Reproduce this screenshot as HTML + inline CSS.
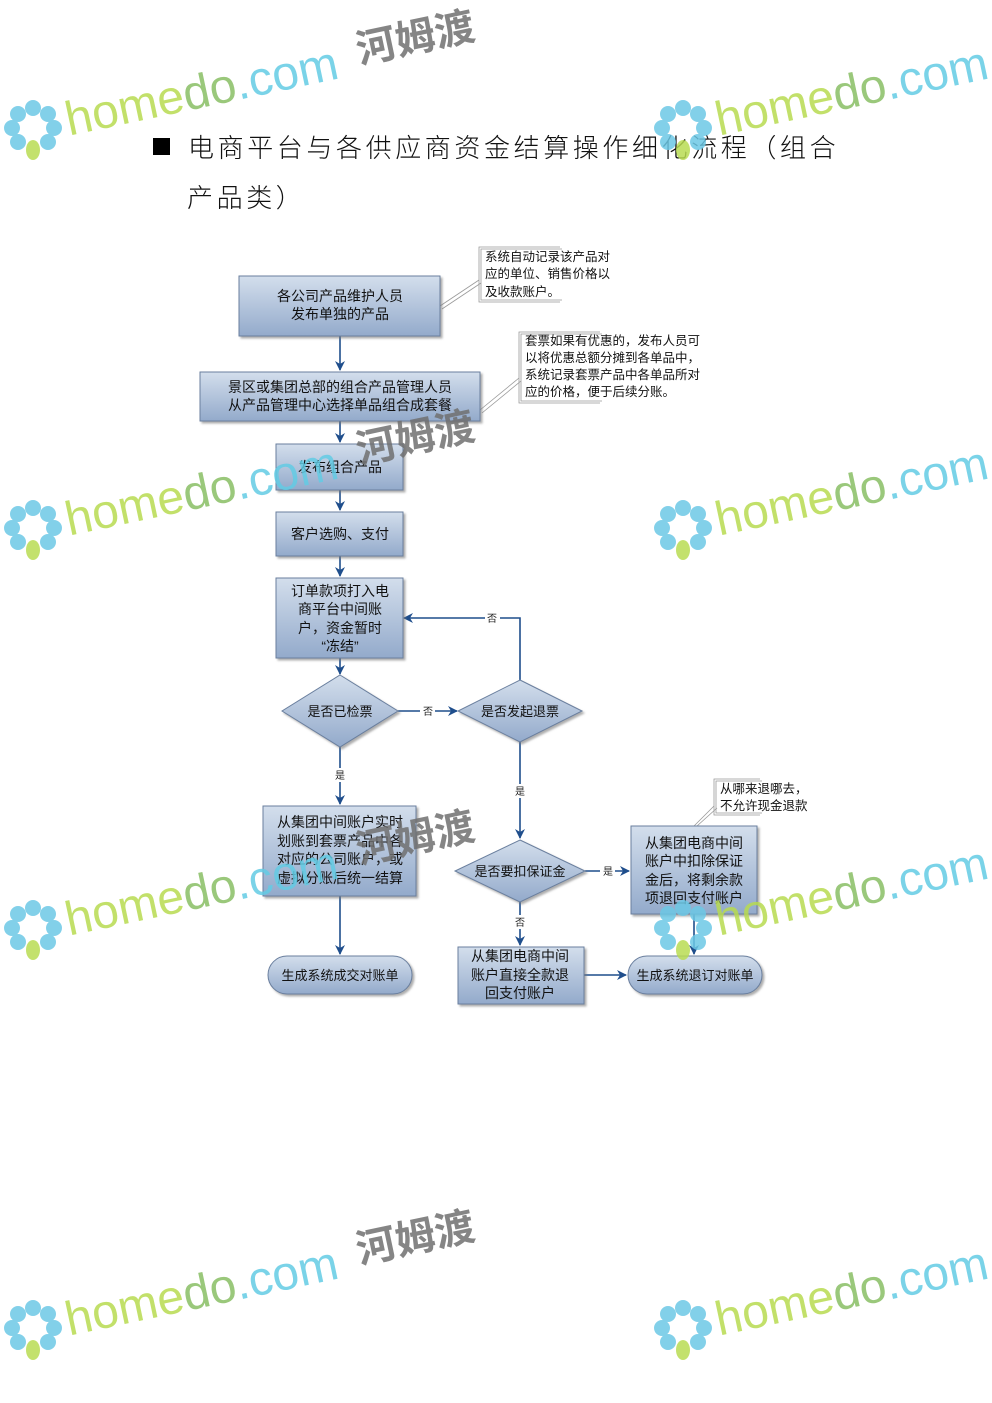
<!DOCTYPE html>
<html><head><meta charset="utf-8"><style>
html,body{margin:0;padding:0;background:#fff}
svg{display:block}
text{font-family:"Liberation Sans","Noto Sans CJK SC",sans-serif}
</style></head><body>
<svg width="992" height="1403" viewBox="0 0 992 1403" xmlns="http://www.w3.org/2000/svg">
<defs>
<linearGradient id="g" x1="0" y1="0" x2="0" y2="1">
<stop offset="0" stop-color="#d3deec"/><stop offset="1" stop-color="#93aacb"/></linearGradient>
<marker id="a" markerWidth="10" markerHeight="10" refX="9" refY="5" orient="auto" markerUnits="userSpaceOnUse">
<path d="M0,0 L10,5 L0,10 L3,5 z" fill="#1f4e8c"/></marker>
<filter id="s" x="-10%" y="-10%" width="130%" height="140%"><feDropShadow dx="2" dy="2" stdDeviation="1" flood-color="#777" flood-opacity="0.6"/></filter>
</defs>

<!-- Title -->
<rect x="153" y="138" width="17" height="17" fill="#000"/>
<text x="188" y="157" font-size="26" letter-spacing="3.6" fill="#111" font-family="'Noto Sans CJK SC',sans-serif" font-weight="300">电商平台与各供应商资金结算操作细化流程（组合</text>
<text x="187" y="207" font-size="26" letter-spacing="3.6" fill="#111" font-family="'Noto Sans CJK SC',sans-serif" font-weight="300">产品类）</text>

<!-- connectors -->
<g stroke="#1f4e8c" stroke-width="1.6" fill="none">
<line x1="340" y1="336" x2="340" y2="370" marker-end="url(#a)"/>
<line x1="340" y1="421" x2="340" y2="442" marker-end="url(#a)"/>
<line x1="340" y1="490" x2="340" y2="510" marker-end="url(#a)"/>
<line x1="340" y1="556" x2="340" y2="576" marker-end="url(#a)"/>
<line x1="340" y1="658" x2="340" y2="674" marker-end="url(#a)"/>
<line x1="398" y1="711" x2="457" y2="711" marker-end="url(#a)"/>
<polyline points="520,680 520,618 404,618" marker-end="url(#a)"/>
<line x1="340" y1="747" x2="340" y2="804" marker-end="url(#a)"/>
<line x1="520" y1="742" x2="520" y2="838" marker-end="url(#a)"/>
<line x1="585" y1="871" x2="629" y2="871" marker-end="url(#a)"/>
<line x1="520" y1="902" x2="520" y2="945" marker-end="url(#a)"/>
<line x1="340" y1="896" x2="340" y2="954" marker-end="url(#a)"/>
<line x1="694" y1="914" x2="694" y2="954" marker-end="url(#a)"/>
<line x1="584" y1="975" x2="626" y2="975" marker-end="url(#a)"/>
</g>
<g stroke="#999" stroke-width="0.8" fill="none">
<line x1="440" y1="306" x2="479" y2="280"/><line x1="442" y1="309" x2="481" y2="283"/>
<line x1="480" y1="410" x2="519" y2="378"/><line x1="482" y1="413" x2="521" y2="381"/>
<line x1="694" y1="826" x2="714" y2="806"/><line x1="697" y1="826" x2="717" y2="808"/>
</g>
<g fill="#fff"><rect x="485" y="612" width="15" height="13"/><rect x="420" y="705" width="15" height="13"/><rect x="332" y="768" width="15" height="14"/><rect x="512" y="784" width="15" height="14"/><rect x="600" y="864" width="15" height="14"/><rect x="512" y="915" width="15" height="14"/></g>
<g font-size="10" fill="#222" text-anchor="middle">
<text x="492" y="622">否</text><text x="428" y="715">否</text><text x="340" y="779">是</text><text x="520" y="795">是</text><text x="608" y="875">是</text><text x="520" y="926">否</text>
</g>

<g fill="url(#g)" stroke="#6a7f9e" stroke-width="1" filter="url(#s)">
<rect x="239" y="276" width="201" height="60"/>
<rect x="200" y="372" width="280" height="49"/>
<rect x="276" y="444" width="127" height="46"/>
<rect x="276" y="512" width="127" height="44"/>
<rect x="276" y="578" width="127" height="80"/>
<polygon points="340,675 398,711 340,747 282,711"/>
<polygon points="520,680 582,711 520,742 458,711"/>
<rect x="263" y="806" width="153" height="90"/>
<polygon points="520,840 585,871 520,902 455,871"/>
<rect x="631" y="826" width="126" height="88"/>
<rect x="458" y="947" width="126" height="57"/>
<rect x="268" y="956" width="144" height="38" rx="19"/>
<rect x="628" y="956" width="134" height="38" rx="19"/>
</g>
<g font-size="14" fill="#111" text-anchor="middle">
<text x="340" y="301">各公司产品维护人员</text><text x="340" y="319">发布单独的产品</text>
<text x="340" y="392">景区或集团总部的组合产品管理人员</text><text x="340" y="410">从产品管理中心选择单品组合成套餐</text>
<text x="340" y="472">发布组合产品</text>
<text x="340" y="539">客户选购、支付</text>
<text x="340" y="596">订单款项打入电</text><text x="340" y="614">商平台中间账</text><text x="340" y="633">户，资金暂时</text><text x="340" y="651">“冻结”</text>
<text x="340" y="716" font-size="13">是否已检票</text>
<text x="520" y="716" font-size="13">是否发起退票</text>
<text x="340" y="827">从集团中间账户实时</text><text x="340" y="846">划账到套票产品中各</text><text x="340" y="864">对应的公司账户，或</text><text x="340" y="883">虚拟分账后统一结算</text>
<text x="520" y="876" font-size="13">是否要扣保证金</text>
<text x="694" y="848">从集团电商中间</text><text x="694" y="866">账户中扣除保证</text><text x="694" y="885">金后，将剩余款</text><text x="694" y="903">项退回支付账户</text>
<text x="520" y="961">从集团电商中间</text><text x="520" y="980">账户直接全款退</text><text x="520" y="998">回支付账户</text>
<text x="340" y="980" font-size="13">生成系统成交对账单</text>
<text x="695" y="980" font-size="13">生成系统退订对账单</text>
</g>
<g fill="none" stroke="#999" stroke-width="0.8">
<polyline points="560,247 479,247 479,302 560,302"/><polyline points="562,249 481,249 481,300 562,300"/>
<polyline points="600,332 519,332 519,403 600,403"/><polyline points="602,334 521,334 521,401 602,401"/>
<polyline points="760,779 714,779 714,815 760,815"/><polyline points="762,781 716,781 716,813 762,813"/>
</g>
<g font-size="12.5" fill="#111">
<text x="485" y="261">系统自动记录该产品对</text><text x="485" y="278">应的单位、销售价格以</text><text x="485" y="296">及收款账户。</text>
<text x="525" y="345">套票如果有优惠的，发布人员可</text><text x="525" y="362">以将优惠总额分摊到各单品中，</text><text x="525" y="379">系统记录套票产品中各单品所对</text><text x="525" y="396">应的价格，便于后续分账。</text>
<text x="720" y="793">从哪来退哪去，</text><text x="720" y="810">不允许现金退款</text>
</g>

<!-- watermarks -->
<g opacity="0.85">
<g transform="translate(0,128)">
<g fill="#6cc8e6"><circle cx="33" cy="-20" r="8"/><circle cx="48" cy="-14" r="8"/><circle cx="54" cy="0" r="8"/><circle cx="48" cy="14" r="8"/><circle cx="18" cy="14" r="8"/><circle cx="12" cy="0" r="8"/><circle cx="18" cy="-14" r="8"/></g>
<ellipse cx="33" cy="22" rx="7" ry="10" fill="#b9dc52"/>
<g transform="rotate(-12)"><text x="66" y="22" font-size="48" fill="#b8db50">home<tspan fill="#88be64">do</tspan><tspan fill="#62cbe4">.com</tspan></text>
<text x="365" y="12" font-size="40" font-weight="bold" fill="#707070" font-family="'Noto Sans CJK SC',sans-serif">河姆渡</text></g>
</g>
<g transform="translate(650,128)">
<g fill="#6cc8e6"><circle cx="33" cy="-20" r="8"/><circle cx="48" cy="-14" r="8"/><circle cx="54" cy="0" r="8"/><circle cx="48" cy="14" r="8"/><circle cx="18" cy="14" r="8"/><circle cx="12" cy="0" r="8"/><circle cx="18" cy="-14" r="8"/></g>
<ellipse cx="33" cy="22" rx="7" ry="10" fill="#b9dc52"/>
<g transform="rotate(-12)"><text x="66" y="22" font-size="48" fill="#b8db50">home<tspan fill="#88be64">do</tspan><tspan fill="#62cbe4">.com</tspan></text></g>
</g>
<g transform="translate(0,528)">
<g fill="#6cc8e6"><circle cx="33" cy="-20" r="8"/><circle cx="48" cy="-14" r="8"/><circle cx="54" cy="0" r="8"/><circle cx="48" cy="14" r="8"/><circle cx="18" cy="14" r="8"/><circle cx="12" cy="0" r="8"/><circle cx="18" cy="-14" r="8"/></g>
<ellipse cx="33" cy="22" rx="7" ry="10" fill="#b9dc52"/>
<g transform="rotate(-12)"><text x="66" y="22" font-size="48" fill="#b8db50">home<tspan fill="#88be64">do</tspan><tspan fill="#62cbe4">.com</tspan></text>
<text x="365" y="12" font-size="40" font-weight="bold" fill="#707070" font-family="'Noto Sans CJK SC',sans-serif">河姆渡</text></g>
</g>
<g transform="translate(650,528)">
<g fill="#6cc8e6"><circle cx="33" cy="-20" r="8"/><circle cx="48" cy="-14" r="8"/><circle cx="54" cy="0" r="8"/><circle cx="48" cy="14" r="8"/><circle cx="18" cy="14" r="8"/><circle cx="12" cy="0" r="8"/><circle cx="18" cy="-14" r="8"/></g>
<ellipse cx="33" cy="22" rx="7" ry="10" fill="#b9dc52"/>
<g transform="rotate(-12)"><text x="66" y="22" font-size="48" fill="#b8db50">home<tspan fill="#88be64">do</tspan><tspan fill="#62cbe4">.com</tspan></text></g>
</g>
<g transform="translate(0,928)">
<g fill="#6cc8e6"><circle cx="33" cy="-20" r="8"/><circle cx="48" cy="-14" r="8"/><circle cx="54" cy="0" r="8"/><circle cx="48" cy="14" r="8"/><circle cx="18" cy="14" r="8"/><circle cx="12" cy="0" r="8"/><circle cx="18" cy="-14" r="8"/></g>
<ellipse cx="33" cy="22" rx="7" ry="10" fill="#b9dc52"/>
<g transform="rotate(-12)"><text x="66" y="22" font-size="48" fill="#b8db50">home<tspan fill="#88be64">do</tspan><tspan fill="#62cbe4">.com</tspan></text>
<text x="365" y="12" font-size="40" font-weight="bold" fill="#707070" font-family="'Noto Sans CJK SC',sans-serif">河姆渡</text></g>
</g>
<g transform="translate(650,928)">
<g fill="#6cc8e6"><circle cx="33" cy="-20" r="8"/><circle cx="48" cy="-14" r="8"/><circle cx="54" cy="0" r="8"/><circle cx="48" cy="14" r="8"/><circle cx="18" cy="14" r="8"/><circle cx="12" cy="0" r="8"/><circle cx="18" cy="-14" r="8"/></g>
<ellipse cx="33" cy="22" rx="7" ry="10" fill="#b9dc52"/>
<g transform="rotate(-12)"><text x="66" y="22" font-size="48" fill="#b8db50">home<tspan fill="#88be64">do</tspan><tspan fill="#62cbe4">.com</tspan></text></g>
</g>
<g transform="translate(0,1328)">
<g fill="#6cc8e6"><circle cx="33" cy="-20" r="8"/><circle cx="48" cy="-14" r="8"/><circle cx="54" cy="0" r="8"/><circle cx="48" cy="14" r="8"/><circle cx="18" cy="14" r="8"/><circle cx="12" cy="0" r="8"/><circle cx="18" cy="-14" r="8"/></g>
<ellipse cx="33" cy="22" rx="7" ry="10" fill="#b9dc52"/>
<g transform="rotate(-12)"><text x="66" y="22" font-size="48" fill="#b8db50">home<tspan fill="#88be64">do</tspan><tspan fill="#62cbe4">.com</tspan></text>
<text x="365" y="12" font-size="40" font-weight="bold" fill="#707070" font-family="'Noto Sans CJK SC',sans-serif">河姆渡</text></g>
</g>
<g transform="translate(650,1328)">
<g fill="#6cc8e6"><circle cx="33" cy="-20" r="8"/><circle cx="48" cy="-14" r="8"/><circle cx="54" cy="0" r="8"/><circle cx="48" cy="14" r="8"/><circle cx="18" cy="14" r="8"/><circle cx="12" cy="0" r="8"/><circle cx="18" cy="-14" r="8"/></g>
<ellipse cx="33" cy="22" rx="7" ry="10" fill="#b9dc52"/>
<g transform="rotate(-12)"><text x="66" y="22" font-size="48" fill="#b8db50">home<tspan fill="#88be64">do</tspan><tspan fill="#62cbe4">.com</tspan></text></g>
</g>
</g>
</svg>
</body></html>
